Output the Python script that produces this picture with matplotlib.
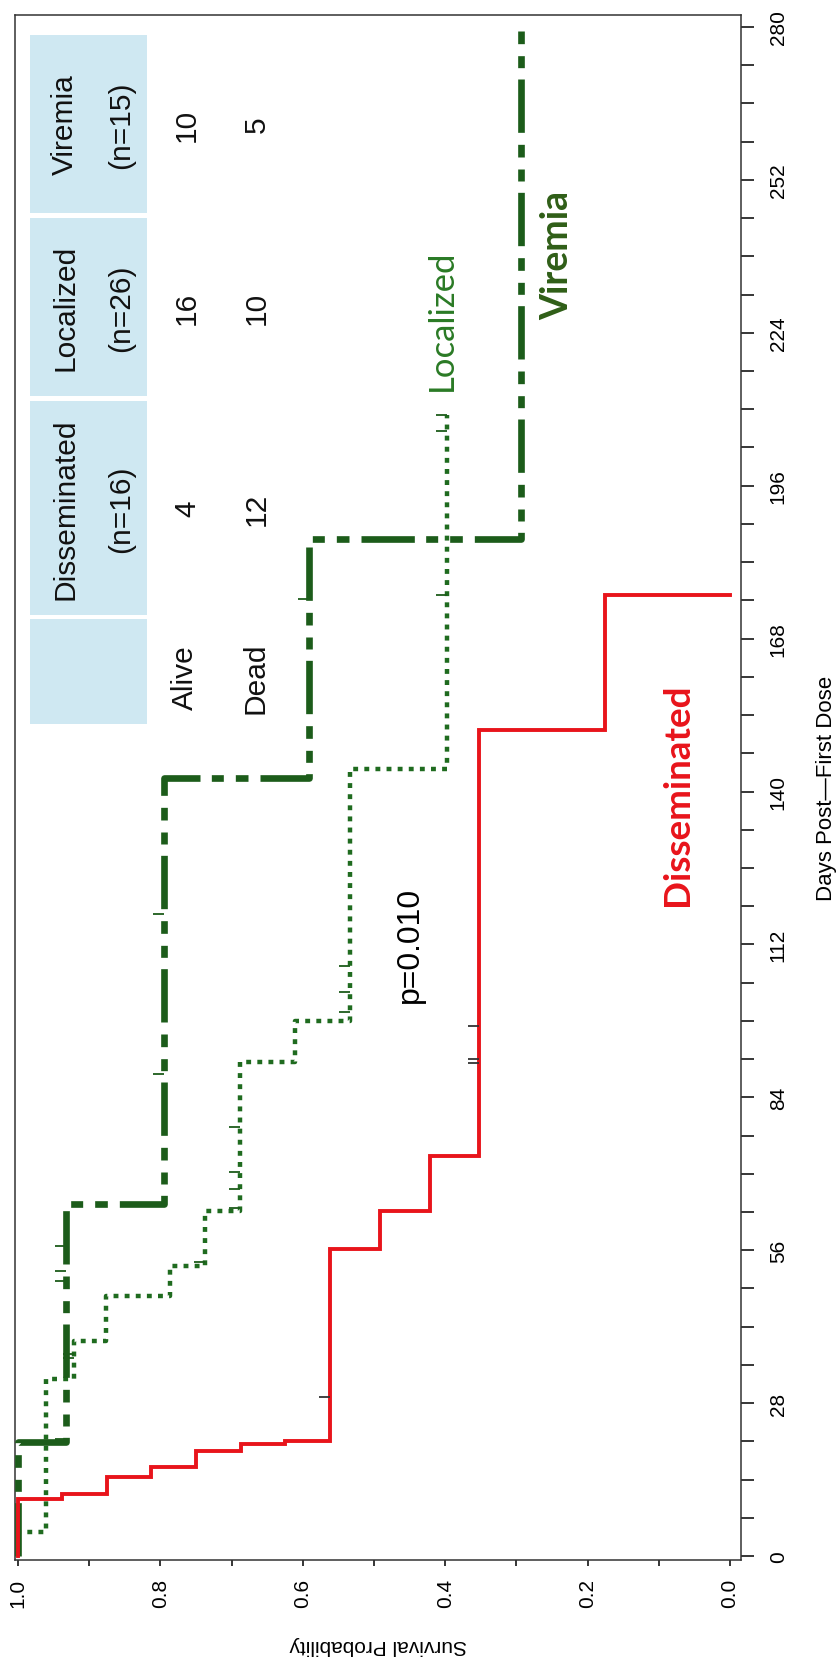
import numpy as np
import matplotlib.pyplot as plt
from matplotlib.patches import Rectangle

plt.rcParams["font.family"] = ["Liberation Sans", "DejaVu Sans"]

W, H = 838, 1665

# =========================
# DATA
# =========================

# day at which each step starts, and survival from that day on
diss_days = [0, 10.4, 11.3, 14.4, 16.3, 19.3, 20.5, 21.1, 56.2, 63.2, 73.3, 151.3, 176]
diss_surv = [1.0, 0.9375, 0.875, 0.8125, 0.75, 0.6875, 0.625, 0.5625, 0.492, 0.422, 0.352, 0.176, 0.0]

loc_days = [0, 4.4, 32.5, 39.4, 47.7, 53.2, 63.2, 90.4, 98.0, 144.2, 209]
loc_surv = [1.0, 0.96, 0.922, 0.877, 0.786, 0.737, 0.688, 0.611, 0.534, 0.398, 0.398]

vir_days = [0, 20.9, 64.5, 142.4, 186.2, 280]
vir_surv = [1.0, 0.933, 0.795, 0.592, 0.293, 0.293]

# censored observations
diss_cens_days = [29.1, 90.3, 91.1, 97.1]
diss_cens_surv = [0.5625, 0.352, 0.352, 0.352]

loc_cens_days = [36.3, 37.0, 53.8, 63.8, 67.2, 70.3, 78.5, 99.6, 103.3, 108.0, 176.0, 206.0, 209.0]
loc_cens_surv = [0.922, 0.922, 0.737, 0.688, 0.688, 0.688, 0.688, 0.534, 0.534, 0.534, 0.398, 0.398, 0.398]

vir_cens_days = [21.4, 50.3, 52.2, 56.8, 88.3, 117.6, 175.2]
vir_cens_surv = [0.933, 0.933, 0.933, 0.933, 0.795, 0.795, 0.592]

# table
groups = ["Disseminated", "Localized", "Viremia"]
group_n = [16, 26, 15]
alive = [4, 16, 10]
dead = [12, 10, 5]

day_ticks = np.arange(0, 281, 28)
surv_ticks = [0.0, 0.2, 0.4, 0.6, 0.8, 1.0]

RED = "#e8141b"
DKGREEN = "#1c5c1a"
LOCGREEN = "#1f6b1f"

# =========================
# FIGURE (chart is drawn turned a quarter turn)
# =========================

fig = plt.figure(figsize=(W / 100, H / 100), dpi=100)
ax = fig.add_axes([15 / W, 104 / H, 726 / W, 1545 / H])

# survival on x (inverted), days on y -> 'pre' steps go up then across
ax.step(diss_surv, diss_days, where="pre", color=RED, lw=2.8,
        solid_joinstyle="miter", zorder=4)
ax.step(loc_surv, loc_days, where="pre", color=LOCGREEN, lw=3.2,
        linestyle=(0, (1.1, 1.4)), zorder=3)
ax.step(vir_surv, vir_days, where="pre", color=DKGREEN, lw=4.8,
        linestyle=(0, (8, 1.7, 1.8, 1.8, 1.9, 1.8)), zorder=3)

# censor ticks
ax.plot(diss_cens_surv, diss_cens_days, ls="none", marker=0, ms=8,
        mew=1.3, color="#333333", zorder=5)
ax.plot(loc_cens_surv, loc_cens_days, ls="none", marker=0, ms=8,
        mew=1.3, color=DKGREEN, zorder=5)
ax.plot(vir_cens_surv, vir_cens_days, ls="none", marker=0, ms=8,
        mew=1.3, color=DKGREEN, zorder=5)

ax.set_xlim(1.0042, -0.0154)
ax.set_ylim(-0.73, 282.2)

ax.set_xticks(surv_ticks)
ax.set_xticklabels([f"{v:.1f}" for v in surv_ticks])
ax.set_xticks(np.arange(0.1, 1.0, 0.2), minor=True)
ax.set_yticks(day_ticks)
ax.set_yticks(np.arange(0, 281, 7), minor=True)

ax.yaxis.tick_right()
ax.yaxis.set_label_position("right")
ax.tick_params(axis="x", which="both", direction="out", length=4, width=1.1,
               labelsize=15, pad=9, labelrotation=90)
ax.tick_params(axis="y", which="both", direction="out", length=9, width=1.1,
               labelsize=15, pad=11, labelrotation=90)
for lbl in ax.get_yticklabels():
    lbl.set_va("center")

for sp in ax.spines.values():
    sp.set_linewidth(1.1)
    sp.set_color("#333333")

ax.set_xlabel("Survival Probability", fontsize=15, rotation=180, labelpad=20)
ax.set_ylabel("Days Post\u2014First Dose", fontsize=16, rotation=90, labelpad=20)

# curve labels and p-value
ax.text(0.4045, 226.5, "Localized", rotation=90, ha="center", va="center",
        fontsize=25, family="Lato", color="#2a7a25")
ax.text(0.243, 238.4, "Viremia", rotation=90, ha="center", va="center",
        fontsize=27, family="Lato", fontweight="bold", color="#2f5e17")
ax.text(0.0744, 139.5, "Disseminated", rotation=90, ha="center", va="center",
        fontsize=26.5, family="Lato", fontweight="bold", color=RED)
ax.text(0.449, 112.1, "p=0.010", rotation=90, ha="center", va="center",
        fontsize=23, color="black")

# =========================
# TABLE (top left)
# =========================


def fx(x):
    return x / W


def fy(y):
    return 1 - y / H


CELL = "#cfe8f2"
col_left, col_right = 30, 147
cell_top = [402, 219, 36]
cell_bot = [616, 397, 214]
blank_top, blank_bot = 620, 725

for top, bot in zip(cell_top + [blank_top], cell_bot + [blank_bot]):
    fig.add_artist(Rectangle((fx(col_left), fy(bot)),
                             fx(col_right) - fx(col_left), fy(top) - fy(bot),
                             transform=fig.transFigure, facecolor=CELL,
                             edgecolor="none", zorder=1))

tkw = dict(rotation=90, ha="center", va="center", fontsize=21.5, color="#111111")
for g, n, a, d, top, bot in zip(groups, group_n, alive, dead, cell_top, cell_bot):
    yc = fy((top + bot) / 2)
    fig.text(fx(65), yc, g, **tkw)
    fig.text(fx(121), yc, f"(n={n})", **tkw)
    fig.text(fx(187), yc, str(a), **tkw)
    fig.text(fx(257), yc, str(d), **tkw)

fig.text(fx(185), fy(678), "Alive", **tkw)
fig.text(fx(255), fy(678), "Dead", **tkw)

fig.savefig("out.png", dpi=100)
